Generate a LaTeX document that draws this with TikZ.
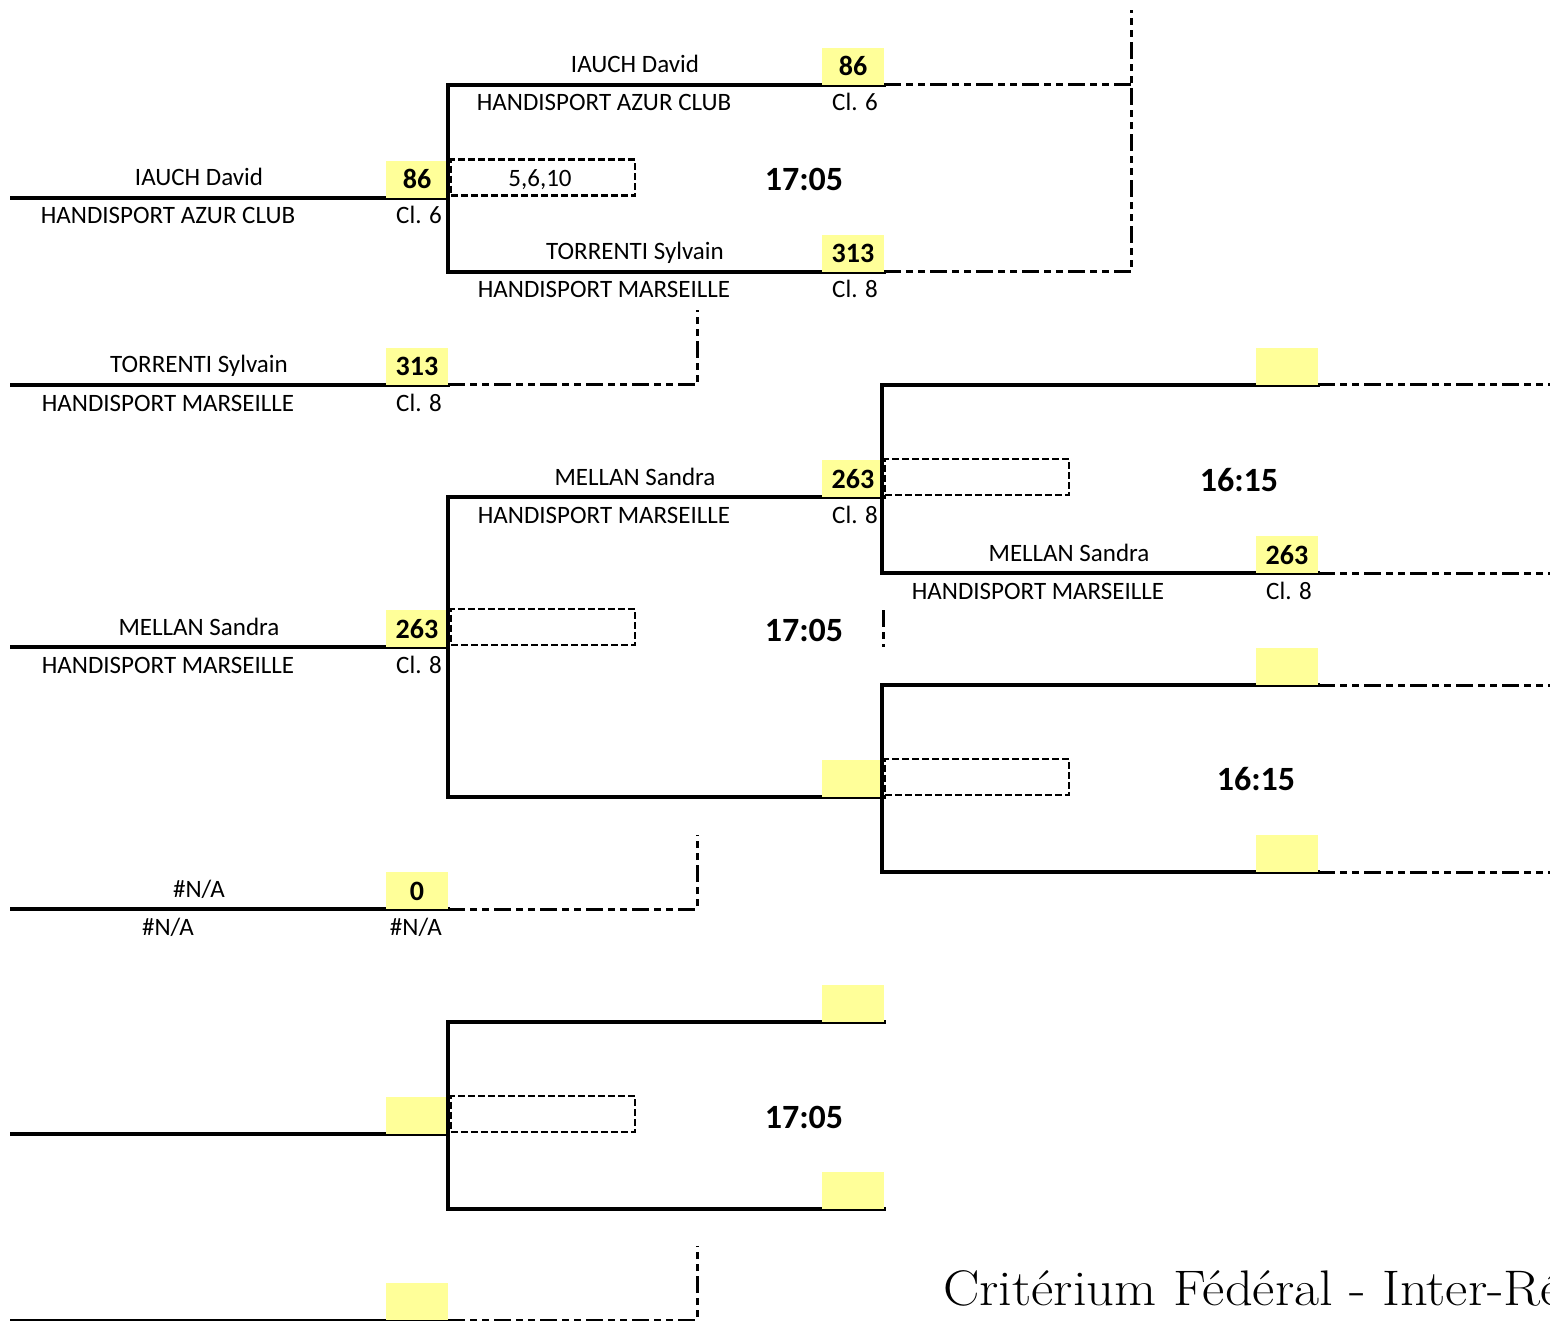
\documentclass[tikz,border=0pt]{standalone}
\usepackage{fontspec}
\newfontfamily\carl{Carlito}
\definecolor{ylw}{RGB}{255,255,153}
\tikzset{
  wline/.style={line width=4.5pt, line cap=rect},
  ddline/.style={line width=3pt, dash pattern=on 17pt off 5pt on 7pt off 5pt on 7pt off 5pt},
  sbox/.style={line width=2.5pt, dash pattern=on 7pt off 3pt},
  ybox/.style={fill=ylw, draw=none},
  nmtxt/.style={font=\carl\fontsize{25}{25}\selectfont, anchor=base, inner sep=0pt},
  cltxt/.style={font=\carl\fontsize{25}{25}\selectfont, anchor=base east, inner sep=0pt},
  numtxt/.style={font=\carl\bfseries\fontsize{28}{28}\selectfont, anchor=base, inner sep=0pt},
  tmtxt/.style={font=\carl\bfseries\fontsize{34}{34}\selectfont, anchor=base, inner sep=0pt},
  boxtxt/.style={font=\carl\fontsize{25}{25}\selectfont, anchor=base, inner sep=0pt},
}
% entry: id, column X, line Y, name, number, club, class
\newcommand\brentry[7]{%
  \fill[ybox] (#2+374,#3-37) rectangle (#2+436,#3);
  \node[nmtxt] (#1-name) at (#2+187,#3-12) {#4};
  \node[numtxt] (#1-num) at (#2+405,#3-9) {#5};
  \node[nmtxt] (#1-club) at (#2+156,#3+26) {#6};
  \node[cltxt] (#1-cl) at (#2+430,#3+26) {#7};
}
% match box: id, X, Ytop, Ybot, Yin, time, time x, time y, box text
\newcommand\brmatch[9]{%
  \coordinate (#1-tr) at (#2+436,#3);
  \coordinate (#1-tl) at (#2,#3);
  \coordinate (#1-bl) at (#2,#4);
  \coordinate (#1-br) at (#2+436,#4);
  \draw[wline] (#1-tr) -- (#1-tl) -- (#1-bl) -- (#1-br);
  \node[sbox, draw, minimum width=184pt, minimum height=36pt, inner sep=0pt, anchor=south west] (#1-tab) at (#2+1.5,#5-1) {};
  \node[boxtxt] (#1-tabtxt) at (#2+92,#5-11) {#9};
  \node[tmtxt] (#1-time) at (#7,#8) {#6};
}
\begin{document}
\begin{tikzpicture}[x=1pt,y=-1pt]
\useasboundingbox (0,0) rectangle (1550,1321);
\clip (0,0) rectangle (1550,1321);

% ---------- round 1 ----------
\foreach \yy/\nn in {198/a,385/b,647/c,909/d,1134/e,1321/f}{
  \coordinate (r1\nn-s) at (12,\yy);
  \coordinate (r1\nn-e) at (448,\yy);
  \draw[wline] (r1\nn-s) -- (r1\nn-e);
}
\brentry{r1a}{12}{198}{IAUCH David}{86}{HANDISPORT AZUR CLUB}{Cl. 6}
\brentry{r1b}{12}{385}{TORRENTI Sylvain}{313}{HANDISPORT MARSEILLE}{Cl. 8}
\brentry{r1c}{12}{647}{MELLAN Sandra}{263}{HANDISPORT MARSEILLE}{Cl. 8}
\brentry{r1d}{12}{909}{\#N/A}{0}{\#N/A}{\#N/A}
\brentry{r1e}{12}{1134}{}{}{}{}
\brentry{r1f}{12}{1320}{}{}{}{}

% ---------- round 2 ----------
\brmatch{m1}{448}{85}{272}{198}{17:05}{804}{191}{5,6,10}
\brmatch{m2}{448}{497}{797}{647}{17:05}{804}{641}{}
\brmatch{m3}{448}{1022}{1209}{1134}{17:05}{804}{1128}{}
\brentry{m1t}{448}{85}{IAUCH David}{86}{HANDISPORT AZUR CLUB}{Cl. 6}
\brentry{m1b}{448}{272}{TORRENTI Sylvain}{313}{HANDISPORT MARSEILLE}{Cl. 8}
\brentry{m2t}{448}{497}{MELLAN Sandra}{263}{HANDISPORT MARSEILLE}{Cl. 8}
\brentry{m2b}{448}{797}{}{}{}{}
\brentry{m3t}{448}{1022}{}{}{}{}
\brentry{m3b}{448}{1209}{}{}{}{}

% ---------- round 3 ----------
\brmatch{q1}{882}{385}{573}{497}{16:15}{1239}{491}{}
\brmatch{q2}{882}{685}{872}{797}{16:15}{1256}{790}{}
\brentry{q1t}{882}{385}{}{}{}{}
\brentry{q1b}{882}{573}{MELLAN Sandra}{263}{HANDISPORT MARSEILLE}{Cl. 8}
\brentry{q2t}{882}{685}{}{}{}{}
\brentry{q2b}{882}{872}{}{}{}{}

% ---------- dash-dot connectors ----------
\coordinate (c1) at (697,310);
\coordinate (c2) at (697,385);
\draw[ddline] (r1b-e) -- (c2) -- (c1);
\coordinate (c3) at (697,835);
\coordinate (c4) at (697,909);
\draw[ddline] (r1d-e) -- (c4) -- (c3);
\coordinate (c5) at (697,1246);
\coordinate (c6) at (697,1320);
\coordinate (r1f-d) at (448,1320);
\draw[ddline] (r1f-d) -- (c6) -- (c5);
\coordinate (c7) at (1131,85);
\coordinate (c8) at (1131,272);
\coordinate (c9) at (1131,10);
\draw[ddline] (m1-tr) -- (c7);
\draw[ddline] (m1-br) -- (c8) -- (c9);
\coordinate (c10) at (883,610);
\coordinate (c11) at (883,647);
\draw[ddline] (c10) -- (c11);
\draw[ddline] (q1-tr) -- (q1-tr -| 1560,0);
\draw[ddline] (q1-br) -- (q1-br -| 1560,0);
\draw[ddline] (q2-tr) -- (q2-tr -| 1560,0);
\draw[ddline] (q2-br) -- (q2-br -| 1560,0);

% ---------- title ----------
\node[anchor=base west, inner sep=0pt, font=\fontsize{50}{50}\selectfont] (title) at (943,1305) {\scalebox{1.09}[1]{Critérium Fédéral - Inter-Ré}};
\end{tikzpicture}
\end{document}
